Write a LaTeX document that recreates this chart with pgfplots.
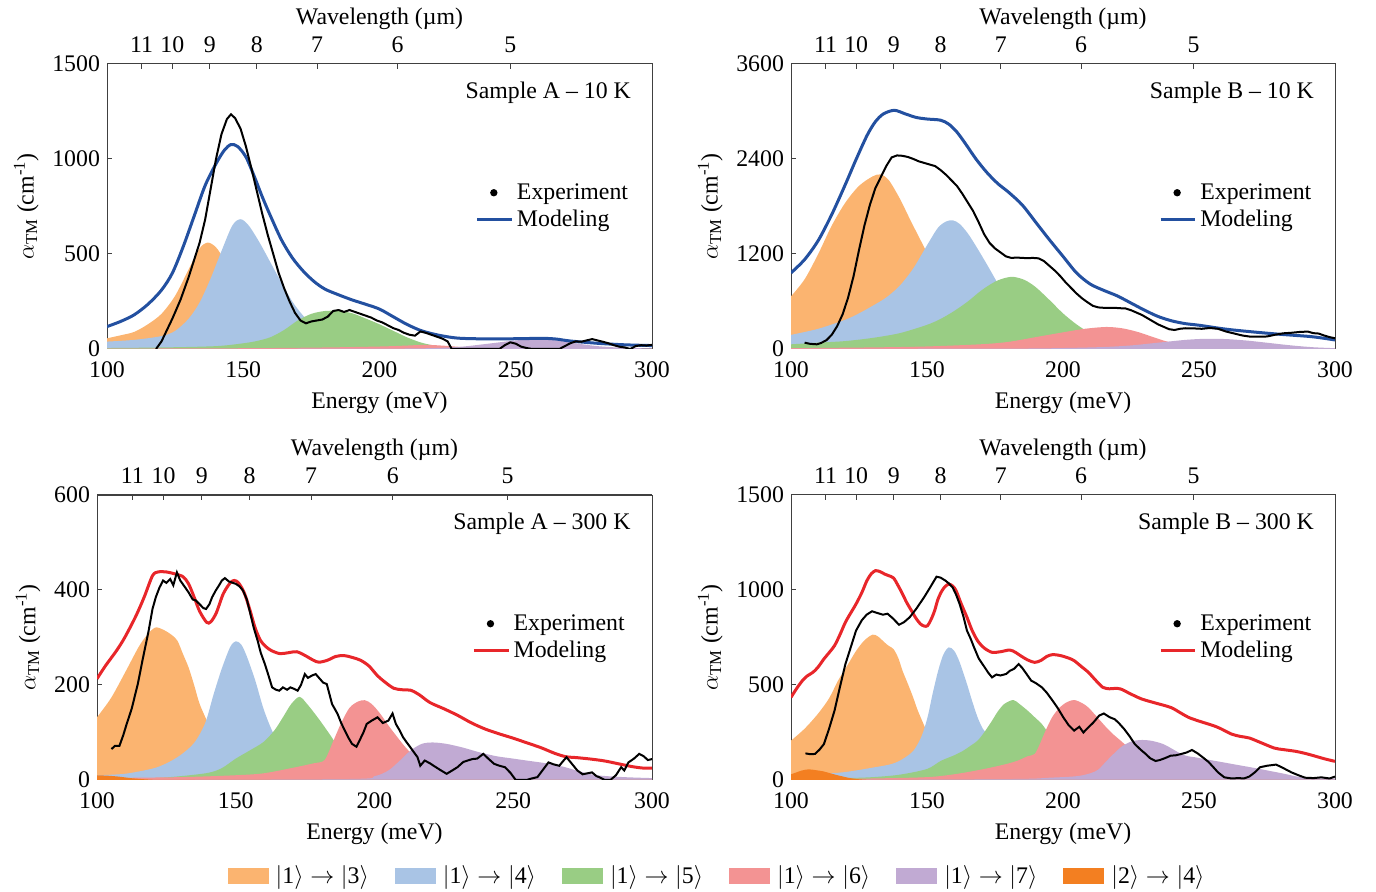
\documentclass[border=0pt]{standalone}
\usepackage{amsmath}
\usepackage{fontspec}
\setmainfont{Liberation Serif}
\usepackage{pgfplots}
\pgfplotsset{compat=1.18}
\definecolor{c3}{HTML}{FBB470}
\definecolor{c4}{HTML}{A9C4E5}
\definecolor{c5}{HTML}{99CD84}
\definecolor{c6}{HTML}{F39393}
\definecolor{c7}{HTML}{C1AAD3}
\definecolor{c24}{HTML}{F37F21}
\definecolor{modblue}{HTML}{2350A0}
\definecolor{modred}{HTML}{E8262A}
\newcommand\fs{\fontsize{11.9}{14}\selectfont}
\tikzset{lab/.style={anchor=east, font=\fs, inner sep=0pt}}
\pgfplotsset{
  panel/.style={scale only axis, anchor=south west, xmin=100, xmax=300, xtick={100,150,...,300},
    xtick pos=bottom, ytick pos=left, tick align=inside, major tick length=2.5pt,
    axis line style={black!75, line width=0.5pt}, every tick/.style={black!75, line width=0.5pt},
    xlabel={Energy (meV)}, ylabel={$\alpha_{\text{TM}}$ (cm$^{\text{-1}}$)},
    tick label style={font=\fs}, label style={font=\fs},
    xticklabel style={yshift=-3pt},
    /pgf/number format/assume math mode=true, /pgf/number format/1000 sep={}, scaled ticks=false,
    legend style={draw=none, fill=none, font=\fs, at={(0.665,0.5)}, anchor=west},
    legend cell align=left, reverse legend},
  topaxis/.style={scale only axis, anchor=south west, xmin=100, xmax=300, ymin=0, ymax=1,
    axis x line*=top, axis y line=none, tick align=inside, major tick length=2.5pt,
    axis line style={black!75, line width=0.5pt}, every tick/.style={black!75, line width=0.5pt},
    xtick={112.71,123.98,137.76,154.98,177.12,206.64,247.97}, xticklabels={11,10,9,8,7,6,5},
    xticklabel style={yshift=2pt}, xlabel style={yshift=-3.5pt},
    xlabel={Wavelength (µm)}, tick label style={font=\fs}, label style={font=\fs}},
  fillp/.style={fill=#1, draw=none, forget plot, smooth},
  model/.style={color=#1, line width=1.5pt, smooth},
  expt/.style={black, line width=1pt, legend image code/.code={\fill[black] (0.29cm,0cm) circle (1.3pt);}}
}
\begin{document}
\begin{tikzpicture}
\path[use as bounding box] (0,0) rectangle (688pt,446pt);
% ---------------- TL
\begin{axis}[panel, at={(53.5pt,271.5pt)}, width=272.5pt, height=142.5pt, ymin=0, ymax=1500, ytick={0,500,1000,1500}]
\addplot[fillp=c3] coordinates {(100,56)(105,72)(110,90)(115,130)(120,185)(125,280)(130,420)(134,530)(137,560)(140,535)(143,470)(146,380)(150,260)(155,140)(160,65)(165,30)(170,14)(180,5)(190,2)(200,0)(300,0)} \closedcycle;
\addplot[fillp=c4] coordinates {(100,39)(110,48)(120,68)(125,95)(130,160)(134,245)(138,370)(142,515)(146,650)(149,683)(152,650)(156,560)(160,455)(164,350)(168,250)(172,175)(176,120)(180,80)(190,35)(200,18)(210,9)(230,3)(250,1)(300,0)} \closedcycle;
\addplot[fillp=c5] coordinates {(100,5)(120,8)(140,15)(150,30)(155,42)(160,62)(165,100)(170,150)(175,185)(180,200)(185,200)(190,188)(195,160)(200,130)(205,96)(210,62)(215,35)(220,18)(225,8)(230,3)(240,1)(300,0)} \closedcycle;
\addplot[fillp=c6] coordinates {(100,2)(150,4)(180,8)(200,13)(210,18)(217,22)(225,16)(232,8)(240,3)(260,1)(300,0)} \closedcycle;
\addplot[fillp=c7] coordinates {(100,0)(200,2)(220,5)(230,12)(240,28)(250,45)(258,52)(265,45)(272,30)(280,15)(290,6)(300,3)} \closedcycle;
\addplot[model=modblue] coordinates {(100,118)(105,145)(110,180)(115,235)(120,310)(124,400)(128,540)(132,700)(136,860)(140,975)(143,1045)(145.5,1076)(148,1065)(151,1010)(154,910)(157,800)(160,700)(164,575)(168,480)(172,410)(176,355)(180,315)(185,285)(190,258)(195,235)(200,210)(205,170)(210,130)(215,98)(220,78)(225,64)(230,56)(240,53)(250,54)(260,56)(265,52)(270,42)(280,30)(290,22)(300,18)};
\addlegendentry{Modeling}
\addplot[expt] coordinates {(118,0)(120,40)(122,100)(124,160)(127,260)(130,380)(132,470)(134,560)(136,680)(138,840)(140,1000)(142,1130)(144,1210)(145.5,1235)(147,1215)(149,1160)(151,1065)(153,950)(155,830)(157,710)(159,600)(161,500)(163,400)(165,320)(167,250)(169,190)(171,150)(173,135)(175,145)(177,150)(179,155)(181,170)(183,200)(185,205)(187,195)(189,205)(191,195)(193,185)(195,175)(197,165)(199,150)(201,140)(203,125)(205,110)(207,100)(209,85)(211,75)(213,70)(215,92)(217,85)(219,75)(221,65)(223,55)(225,40)(226.5,0)(244,0)(246,20)(248,35)(250,28)(252,12)(254,5)(256,0)(266,0)(268,15)(270,30)(272,40)(274,38)(276,45)(278,52)(280,45)(282,38)(284,30)(286,20)(288,12)(290,8)(292,0)(294,15)(296,20)(298,18)(300,22)};
\addlegendentry{Experiment}
\node[lab] at (rel axis cs:0.962,0.9) {Sample A – 10 K};
\end{axis}
\begin{axis}[topaxis, at={(53.5pt,271.5pt)}, width=272.5pt, height=142.5pt]
\end{axis}
% ---------------- TR
\begin{axis}[panel, at={(395.5pt,271.5pt)}, width=272pt, height=142.5pt, ymin=0, ymax=3600, ytick={0,1200,2400,3600}]
\addplot[fillp=c3] coordinates {(100,665)(105,880)(110,1200)(115,1560)(120,1850)(125,2060)(130,2180)(133,2205)(136,2130)(140,1900)(144,1620)(148,1350)(152,1080)(156,820)(160,600)(165,390)(170,230)(175,130)(180,70)(190,20)(200,6)(220,1)(300,0)} \closedcycle;
\addplot[fillp=c4] coordinates {(100,178)(110,255)(120,370)(125,450)(130,545)(135,650)(140,800)(145,1020)(150,1310)(154,1530)(157,1610)(159.5,1625)(162,1580)(165,1460)(168,1300)(172,1070)(176,830)(180,610)(185,420)(190,280)(200,130)(210,60)(220,25)(240,6)(260,2)(300,0)} \closedcycle;
\addplot[fillp=c5] coordinates {(100,59)(110,80)(120,100)(130,140)(140,200)(150,305)(155,380)(160,480)(165,600)(170,740)(175,850)(179,900)(182,910)(186,870)(190,780)(195,620)(200,450)(205,310)(210,200)(215,130)(220,80)(230,30)(240,10)(260,2)(300,0)} \closedcycle;
\addplot[fillp=c6] coordinates {(100,10)(130,20)(150,32)(170,60)(180,90)(190,150)(200,210)(208,255)(216,278)(222,260)(228,210)(234,140)(240,80)(250,35)(260,15)(280,4)(300,1)} \closedcycle;
\addplot[fillp=c7] coordinates {(100,1)(180,5)(200,12)(215,25)(225,45)(235,80)(245,115)(252,128)(260,125)(268,105)(276,75)(284,45)(292,22)(300,10)} \closedcycle;
\addplot[model=modblue] coordinates {(100,961)(105,1130)(110,1370)(115,1700)(120,2080)(124,2400)(128,2700)(131,2870)(134,2970)(138,3015)(142,2970)(146,2925)(150,2905)(155,2890)(158,2840)(161,2740)(164,2600)(168,2400)(172,2230)(176,2090)(180,1980)(185,1820)(190,1600)(195,1380)(200,1170)(205,960)(210,820)(215,740)(220,670)(225,580)(230,490)(235,410)(240,355)(245,320)(250,300)(260,250)(270,215)(280,185)(290,160)(295,140)(300,114)};
\addlegendentry{Modeling}
\addplot[expt] coordinates {(105,80)(107,65)(109.5,59)(111,75)(113,110)(115,180)(117,290)(119,440)(121,650)(123,920)(125,1250)(127,1560)(129,1820)(131,2030)(133,2170)(135,2310)(137,2420)(139,2445)(141,2440)(143,2425)(145,2400)(147,2370)(149,2350)(151,2330)(153,2310)(155,2260)(157,2200)(159,2130)(161,2060)(163,1960)(165,1850)(167,1740)(169,1600)(171,1450)(173,1340)(175,1270)(177,1220)(179,1170)(181,1150)(183,1155)(185,1150)(187,1148)(189,1150)(191,1145)(193,1110)(195,1050)(197,990)(199,920)(201,840)(203,770)(205,700)(207,640)(209,590)(211,545)(213,525)(215,520)(217,518)(219,520)(221,515)(223,512)(225,490)(227,460)(229,430)(231,390)(233,350)(235,310)(237,280)(239,250)(241,240)(243,255)(245,262)(248,260)(251,255)(254,265)(257,255)(260,220)(263,195)(266,170)(269,155)(272,155)(275,158)(278,180)(281,198)(284,205)(287,215)(290,220)(292,200)(294,195)(296,170)(298,150)(300,135)};
\addlegendentry{Experiment}
\node[lab] at (rel axis cs:0.962,0.9) {Sample B – 10 K};
\end{axis}
\begin{axis}[topaxis, at={(395.5pt,271.5pt)}, width=272pt, height=142.5pt]
\end{axis}
% ---------------- BL
\begin{axis}[panel, at={(48.5pt,56pt)}, width=277.5pt, height=142.5pt, ymin=0, ymax=600, ytick={0,200,400,600}]
\addplot[fillp=c3] coordinates {(100,132)(105,172)(110,225)(115,280)(118,305)(121,321)(124,316)(127,305)(129,293)(131,265)(133,237)(135,200)(137,160)(140,120)(143,85)(146,60)(150,35)(155,18)(160,9)(170,3)(180,1)(300,0)} \closedcycle;
\addplot[fillp=c4] coordinates {(100,10)(110,13)(120,24)(125,35)(130,52)(135,78)(139,120)(142,180)(145,235)(148,280)(150,292)(152,285)(154,260)(157,210)(160,150)(163,105)(166,72)(170,45)(175,25)(180,15)(190,6)(200,2)(300,0)} \closedcycle;
\addplot[fillp=c5] coordinates {(100,2)(120,4)(130,8)(140,15)(145,25)(150,45)(155,62)(160,80)(164,105)(167,132)(170,160)(173,175)(176,158)(180,128)(184,95)(188,60)(192,35)(196,20)(200,12)(210,4)(220,1)(300,0)} \closedcycle;
\addplot[fillp=c6] coordinates {(100,4)(130,6)(150,10)(160,14)(170,25)(178,35)(182,42)(185,80)(188,120)(191,152)(194,165)(196.5,168)(199,160)(202,140)(205,115)(208,92)(211,70)(214,52)(218,35)(222,22)(230,10)(240,4)(260,1)(300,0)} \closedcycle;
\addplot[fillp=c7] coordinates {(100,0)(190,2)(200,8)(205,20)(209,40)(213,62)(217,76)(221,79)(226,76)(232,68)(238,58)(244,50)(250,45)(256,40)(262,35)(268,28)(274,18)(280,10)(290,6)(300,4)} \closedcycle;
\addplot[fillp=c24] coordinates {(100,10)(104,9)(108,7)(112,4)(116,2)(120,0.5)(125,0)(300,0)} \closedcycle;
\addplot[model=modred] coordinates {(100,213)(103,240)(107,272)(110,300)(114,345)(117,385)(120,430)(122,438)(125,438)(128,434)(131,428)(133,413)(135,385)(137,355)(139.5,332)(141,333)(143,352)(145.5,392)(148,415)(149.5,420)(151,415)(153,395)(155,360)(157,320)(159,293)(161,280)(163,272)(166,266)(169,268)(172,270)(175,262)(178,252)(180,248)(183,252)(186,260)(189,262)(192,258)(195,252)(198,240)(201,220)(204,205)(207,193)(210,190)(213,189)(216,180)(220,163)(225,150)(230,136)(235,120)(240,107)(245,97)(250,88)(255,78)(260,68)(265,56)(269,49)(273,47)(278,44)(283,40)(288,34)(293,28)(297,25)(300,25)};
\addlegendentry{Modeling}
\addplot[expt] coordinates {(105.2,65)(106.5,72)(108.1,72)(109.5,95)(110.7,118)(112.5,150)(114.7,202)(116.5,255)(118.6,314)(120,360)(121.2,385)(122.5,405)(123.8,420)(125,415)(126.4,423)(127.5,410)(128.8,437)(130,420)(131.7,406)(133,395)(134.5,380)(135.6,378)(137,370)(138.3,362)(139.3,360)(140.5,370)(141.5,385)(142.8,399)(144,410)(145,420)(146.1,425)(147.5,418)(149,415)(150,413)(151.3,408)(152.6,399)(154,380)(155.3,349)(156.5,320)(157.9,293)(159,268)(160.5,244)(161.8,220)(163.1,195)(164.5,190)(165.7,188)(167,195)(168.5,190)(169.7,195)(171,192)(172.3,188)(173.5,200)(174.9,223)(176,215)(177.5,220)(178.8,223)(180,215)(181.5,205)(182.8,202)(184.7,160)(186.7,139)(188,120)(189.3,104)(190.5,90)(191.9,76)(193.5,70)(194.6,83)(196,100)(197.2,118)(199,125)(201.1,132)(203,120)(205,125)(206.5,140)(207.7,118)(209,105)(210.3,90)(211.5,80)(212.9,69)(214,60)(215.5,48)(216.5,30)(218.1,41)(220,35)(222.1,27)(224,20)(226,13)(228,20)(229.9,27)(232,38)(235.2,44)(237,45)(239.2,55)(241,45)(243.1,34)(245,30)(247,27)(249,15)(250.9,0)(254.8,0)(256.5,3)(258.7,6)(260.5,20)(262.7,37)(264.5,33)(266.6,30)(268,40)(269.2,48)(271,35)(273.1,20)(275,12)(278.4,16)(280,8)(281,6)(283,0)(285,0)(287,10)(288.9,27)(290,20)(291.5,37)(293.5,45)(295.4,55)(297,50)(298.5,42)(300,44)};
\addlegendentry{Experiment}
\node[lab] at (rel axis cs:0.962,0.9) {Sample A – 300 K};
\end{axis}
\begin{axis}[topaxis, at={(48.5pt,56pt)}, width=277.5pt, height=142.5pt]
\end{axis}
% ---------------- BR
\begin{axis}[panel, at={(395.5pt,56pt)}, width=272pt, height=142.5pt, ymin=0, ymax=1500, ytick={0,500,1000,1500}]
\addplot[fillp=c3] coordinates {(100,207)(105,270)(110,350)(114,430)(117.3,523)(121,610)(124,681)(127,735)(130,765)(132,755)(134.4,724)(136,705)(137.7,689)(139.5,640)(141,575)(143,505)(144.9,435)(146.5,370)(148.2,312)(150,255)(153,190)(156,135)(160,80)(165,40)(170,20)(180,5)(190,1)(300,0)} \closedcycle;
\addplot[fillp=c4] coordinates {(100,22)(110,30)(120,42)(130,65)(137,84)(141,110)(145,154)(148,230)(150.2,330)(152,450)(154.1,575)(156,660)(158,698)(160,680)(162,620)(164.7,505)(166.5,420)(168.6,330)(170.5,270)(172,242)(175,170)(180,95)(185,55)(190,30)(200,10)(210,3)(300,0)} \closedcycle;
\addplot[fillp=c5] coordinates {(100,5)(120,10)(130,15)(140,28)(150,58)(155,100)(160,130)(163.3,154)(166,180)(168.6,207)(171,250)(173.9,312)(176,360)(178.4,400)(181.7,421)(184,400)(187,365)(190,325)(192.2,295)(195,240)(198,185)(200,150)(205,90)(210,50)(215,25)(220,12)(230,4)(300,0)} \closedcycle;
\addplot[fillp=c6] coordinates {(100,3)(130,8)(150,15)(160,30)(170,55)(178,80)(183,100)(187,125)(189.6,137)(191.5,190)(193.6,260)(196,330)(198.8,382)(201.5,410)(204.1,421)(207,405)(209.3,382)(212,340)(215.9,277)(218.5,240)(221.2,207)(225,160)(230,115)(235,80)(240,55)(250,28)(260,14)(270,7)(280,3)(300,1)} \closedcycle;
\addplot[fillp=c7] coordinates {(100,0)(180,5)(195,12)(205,20)(210,35)(213,55)(216,100)(219.8,154)(222,180)(225.1,203)(228,210)(230.4,210)(233,205)(236.9,189)(240,165)(243.5,137)(246,125)(248.8,119)(252,110)(255.3,102)(260,90)(265.8,75)(269,67)(272.4,58)(277,45)(281.6,32)(286,18)(290,10)(300,8)} \closedcycle;
\addplot[fillp=c24] coordinates {(100,30)(102,40)(104,50)(106.5,56)(109,52)(112,45)(115,33)(118,22)(121,12)(124,5)(128,1)(132,0)(300,0)} \closedcycle;
\addplot[model=modred] coordinates {(100,435)(102,480)(104.2,523)(106,548)(108.1,567)(110,595)(112.1,637)(114,670)(116,707)(118,765)(120,830)(122,880)(123.9,926)(126,985)(127.9,1049)(129.5,1085)(131.1,1102)(133,1095)(134.4,1084)(136,1075)(137.7,1063)(139.3,1025)(141,979)(142.5,935)(144.3,891)(146,850)(147.6,821)(149,810)(150.2,812)(151.5,845)(152.8,891)(154,950)(155.5,996)(156.8,1020)(158.1,1031)(159.5,1020)(160.7,996)(162.5,930)(164.7,856)(166.5,790)(168.6,733)(171,695)(173.9,672)(177,675)(180.4,684)(182.5,672)(184.4,654)(187,632)(189.6,619)(192,630)(194,650)(196.2,660)(199,655)(202,642)(204.1,628)(206.5,600)(209.3,567)(212,525)(214.6,488)(217,480)(219,482)(221.2,479)(225,452)(229,426)(234,405)(239.6,382)(243,355)(246.1,330)(250,310)(255.3,286)(258,270)(261.9,242)(265,230)(268.5,221)(273,195)(277.7,168)(281,160)(285.5,151)(289,140)(292.1,128)(296,112)(300,98)};
\addlegendentry{Modeling}
\addplot[expt] coordinates {(105.3,140)(107,136)(108.8,137)(110.5,160)(112.1,189)(114,270)(116,365)(118,490)(120,610)(122,700)(123.9,786)(126,840)(127.8,870)(129.8,888)(131.5,880)(133.8,870)(135.5,875)(137.5,850)(139.7,817)(141.5,830)(143.6,856)(146,900)(148.9,961)(151,1010)(153.5,1070)(155,1065)(156.8,1049)(158,1035)(159.4,1014)(160.7,975)(162,926)(163.4,860)(164.7,786)(166,745)(167.3,698)(169,640)(171.2,593)(172.5,565)(173.9,540)(175.5,555)(177,550)(179.1,558)(180.5,575)(182,585)(183.7,610)(185,590)(186.5,560)(188.3,523)(190,510)(192.2,488)(194,460)(196.2,417)(198,380)(200.1,330)(202,290)(204.1,260)(206,280)(207.5,250)(209.3,277)(211,300)(213.3,339)(215,350)(217.2,330)(219,320)(220.5,300)(222.5,268)(224.5,230)(226.4,189)(228.5,160)(230.4,137)(232,115)(234,100)(235.6,105)(237.5,115)(239.6,128)(241.5,130)(243.5,137)(245.5,145)(247.4,158)(249.5,140)(251.4,119)(253.5,95)(255.3,67)(257,40)(259.3,14)(262,8)(264.5,10)(266.5,8)(268.5,18)(270.5,40)(272.4,67)(275,75)(278.3,81)(280,70)(281.6,58)(284,40)(286.9,23)(289,12)(292.1,10)(295,14)(298,8)(300,18)};
\addlegendentry{Experiment}
\node[lab] at (rel axis cs:0.962,0.9) {Sample B – 300 K};
\end{axis}
\begin{axis}[topaxis, at={(395.5pt,56pt)}, width=272pt, height=142.5pt]
\end{axis}
% ---------------- bottom legend
\begin{axis}[at={(0pt,0pt)}, anchor=south west, scale only axis, width=688pt, height=20pt, hide axis,
  xmin=0, xmax=1, ymin=0, ymax=1, legend columns=6,
  legend style={at={(0.523,0.4)}, anchor=center, draw=none, fill=none, font=\fs,
    nodes={inner xsep=3.5pt},
    /tikz/every even column/.append style={column sep=9.5pt}},
  legend image code/.code={\fill (0pt,-4pt) rectangle (20.5pt,4pt);}]
\addlegendimage{fill=c3, draw=none}\addlegendentry{$|$1$\rangle\rightarrow|$3$\rangle$}
\addlegendimage{fill=c4, draw=none}\addlegendentry{$|$1$\rangle\rightarrow|$4$\rangle$}
\addlegendimage{fill=c5, draw=none}\addlegendentry{$|$1$\rangle\rightarrow|$5$\rangle$}
\addlegendimage{fill=c6, draw=none}\addlegendentry{$|$1$\rangle\rightarrow|$6$\rangle$}
\addlegendimage{fill=c7, draw=none}\addlegendentry{$|$1$\rangle\rightarrow|$7$\rangle$}
\addlegendimage{fill=c24, draw=none}\addlegendentry{$|$2$\rangle\rightarrow|$4$\rangle$}
\end{axis}
\end{tikzpicture}
\end{document}
